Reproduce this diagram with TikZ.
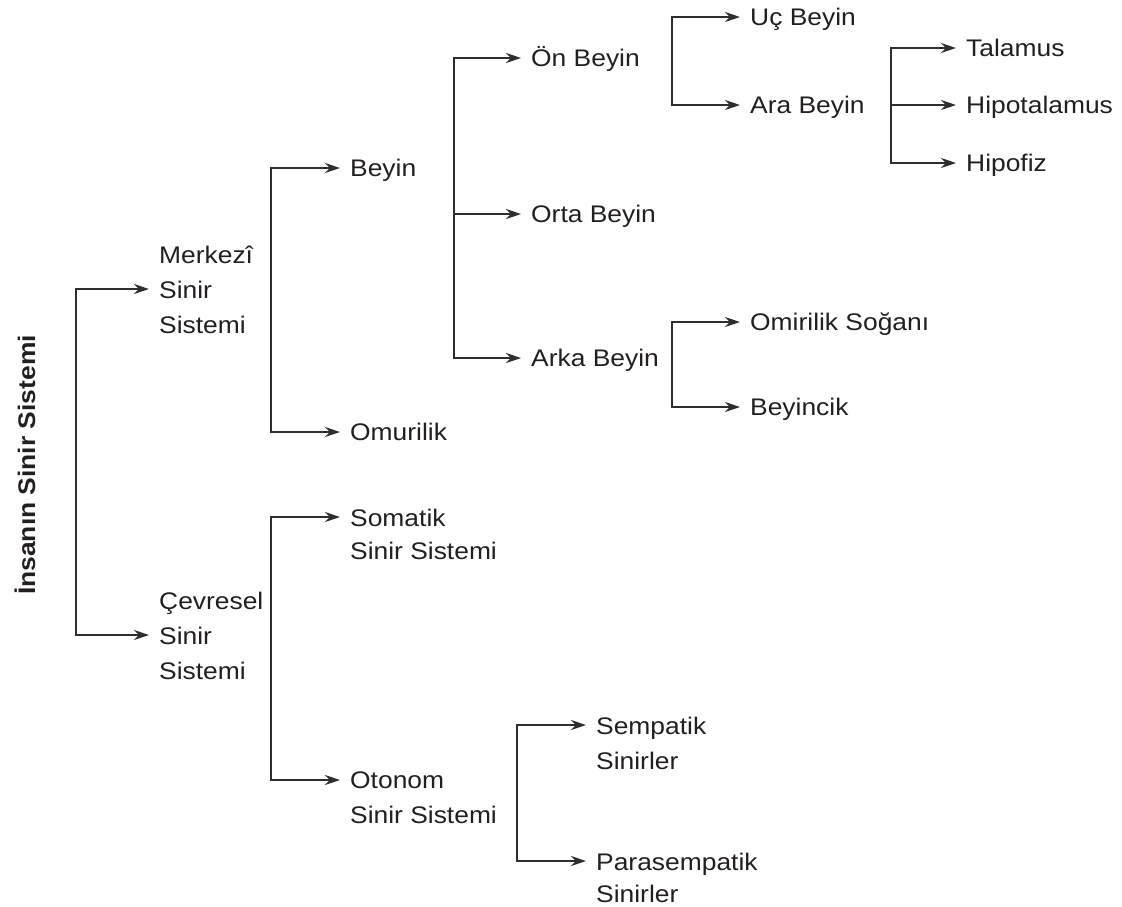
\documentclass[tikz,border=0pt]{standalone}
\usepackage{fontspec}
\setmainfont{Liberation Sans}[FakeStretch=1.1]
\usetikzlibrary{arrows.meta}
\definecolor{ink}{HTML}{231F20}
\definecolor{lncol}{HTML}{2E2E2E}

\begin{document}
\begin{tikzpicture}[x=1pt,y=-1pt,
  lbl/.style={inner sep=0pt, text=ink, font=\fontsize{24}{35}\selectfont, align=left},
  arr/.style={draw=lncol, line width=2.4pt, -{Stealth[length=15pt,width=10pt]}, shorten >=10pt},
  brk/.style={arr, {Stealth[length=15pt,width=10pt]}-{Stealth[length=15pt,width=10pt]}, shorten <=10pt}]
  \useasboundingbox (0,0) rectangle (1122,906);
  \node[lbl, rotate=90, anchor=base, font=\fontsize{24}{30}\selectfont\bfseries] (insan) at (35,465) {İnsanın Sinir Sistemi};
  \node[lbl, anchor=north west] (merkezi) at (159,245.5) {Merkezî\\Sinir\\Sistemi};
  \node[lbl, anchor=north west] (cevresel) at (159,591.5) {Çevresel\\Sinir\\Sistemi};
  \node[lbl, anchor=base west] (beyin) at (350,176.5) {Beyin}; \node[lbl, anchor=base west] (omurilik) at (350,440.5) {Omurilik};
  \node[lbl, anchor=north west] (somatik) at (350,508.5) {Somatik\\[-2pt]Sinir Sistemi}; \node[lbl, anchor=north west] (otonom) at (350,771.5) {Otonom\\Sinir Sistemi};
  \node[lbl, anchor=base west] (onbeyin) at (531,66.5) {Ön Beyin}; \node[lbl, anchor=base west] (ortabeyin) at (531,222.5) {Orta Beyin}; \node[lbl, anchor=base west] (arkabeyin) at (531,366.5) {Arka Beyin};
  \node[lbl, anchor=base west] (ucbeyin) at (750,25.5) {Uç Beyin}; \node[lbl, anchor=base west] (arabeyin) at (750,113.5) {Ara Beyin};
  \node[lbl, anchor=base west] (talamus) at (966,56.5) {Talamus}; \node[lbl, anchor=base west] (hipotalamus) at (966,113.5) {Hipotalamus}; \node[lbl, anchor=base west] (hipofiz) at (966,171.5) {Hipofiz};
  \node[lbl, anchor=base west] (sogan) at (750,330.5) {Omirilik Soğanı}; \node[lbl, anchor=base west] (beyincik) at (750,415.5) {Beyincik};
  \node[lbl, anchor=north west] (sempatik) at (596,716.5) {Sempatik\\Sinirler}; \node[lbl, anchor=north west] (parasempatik) at (596,852.5) {Parasempatik\\[-3pt]Sinirler};
  \coordinate (k0) at (76,460); \coordinate (k1) at (271,300); \coordinate (k2) at (271,650); \coordinate (k3) at (454,214);
  \coordinate (k4) at (672,60); \coordinate (k5) at (891,105); \coordinate (k6) at (672,360); \coordinate (k7) at (517,800);
  \draw[brk] ([yshift=-43.5pt]merkezi.north west) -| (k0) |- ([yshift=-43.5pt]cevresel.north west);
  \draw[brk] ([yshift=8.5pt]beyin.base west) -| (k1) |- ([yshift=8.5pt]omurilik.base west);
  \draw[brk] ([yshift=-8.5pt]somatik.north west) -| (k2) |- ([yshift=-8.5pt]otonom.north west);
  \draw[brk] ([yshift=8.5pt]onbeyin.base west) -| (k3) |- ([yshift=8.5pt]arkabeyin.base west); \draw[arr] (k3) -- (ortabeyin.west |- k3);
  \draw[brk] ([yshift=8.5pt]ucbeyin.base west) -| (k4) |- ([yshift=8.5pt]arabeyin.base west);
  \draw[brk] ([yshift=8.5pt]talamus.base west) -| (k5) |- ([yshift=8.5pt]hipofiz.base west); \draw[arr] (k5) -- (hipotalamus.west |- k5);
  \draw[brk] ([yshift=8.5pt]sogan.base west) -| (k6) |- ([yshift=8.5pt]beyincik.base west);
  \draw[brk] ([yshift=-8.5pt]sempatik.north west) -| (k7) |- ([yshift=-8.5pt]parasempatik.north west);
\end{tikzpicture}
\end{document}
